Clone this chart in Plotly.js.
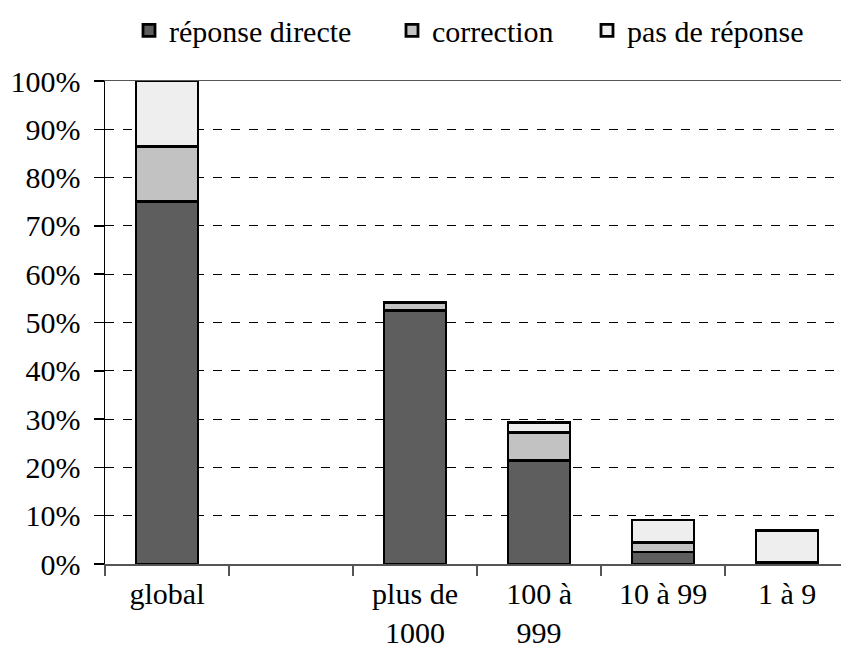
<!DOCTYPE html>
<html>
<head>
<meta charset="utf-8">
<script src="https://cdn.plot.ly/plotly-3.0.1.min.js"></script>
<style>html,body{margin:0;padding:0;background:#fff;}</style>
</head>
<body>
<div id="chart" style="width:841px;height:650px;"></div>
<script>
const categories = ["global", " ", "plus de<br>1000", "100 à<br>999", "10 à 99", "1 à 9"];
const reponseDirecte = [75.0, null, 52.5, 21.5, 2.5, 0.4];
const correction = [11.5, null, 1.7, 5.8, 2.0, 0];
const pasDeReponse = [13.5, null, 0, 2.0, 4.6, 6.6];
const seriesNames = ["réponse directe", "correction", "pas de réponse"];
const tickVals = [0, 10, 20, 30, 40, 50, 60, 70, 80, 90, 100];
const tickLabels = ["0%", "10%", "20%", "30%", "40%", "50%", "60%", "70%", "80%", "90%", "100%"];

const FONT = "Liberation Serif, Times New Roman, serif";
const FS = 30;
const barLine = {color: "#000", width: 2.8};

const traces = [
  {type: "bar", name: seriesNames[0], x: categories, y: reponseDirecte,
   marker: {color: "#5e5e5e", line: barLine}, legend: "legend"},
  {type: "bar", name: seriesNames[1], x: categories, y: correction,
   marker: {color: "#c2c2c2", line: barLine}, legend: "legend2"},
  {type: "bar", name: seriesNames[2], x: categories, y: pasDeReponse,
   marker: {color: "#eeeeee", line: barLine}, legend: "legend3"}
];

const legBase = {orientation: "h", yanchor: "middle", y: 1.105, xanchor: "left",
  font: {family: FONT, size: FS, color: "#000"}, bgcolor: "rgba(0,0,0,0)", borderwidth: 0};

const layout = {
  width: 841, height: 650,
  margin: {l: 105, r: 0, t: 81, b: 86, pad: 0},
  paper_bgcolor: "#fff", plot_bgcolor: "#fff",
  font: {family: FONT, size: FS, color: "#000"},
  barmode: "stack",
  bargap: 0.5,
  showlegend: true,
  legend: Object.assign({}, legBase, {x: (170 - 41 - 105) / 736}),
  legend2: Object.assign({}, legBase, {x: (433 - 41 - 105) / 736}),
  legend3: Object.assign({}, legBase, {x: (628 - 41 - 105) / 736}),
  xaxis: {
    type: "category", categoryorder: "array", categoryarray: categories,
    range: [-0.5, 5.435],
    showline: true, linecolor: "#555", linewidth: 1.5, mirror: true,
    ticks: "outside", ticklen: 10, tickwidth: 1.5, tickcolor: "#555",
    tickson: "boundaries", showgrid: false, zeroline: false,
    ticklabelstandoff: 2,
    tickfont: {family: FONT, size: FS, color: "#000"}
  },
  yaxis: {
    range: [0, 100], tickmode: "array", tickvals: tickVals, ticktext: tickLabels,
    showline: true, linecolor: "#000", linewidth: 1.5,
    ticks: "outside", ticklen: 10, tickwidth: 1.5, tickcolor: "#000",
    showgrid: true, gridcolor: "#000", gridwidth: 1, griddash: "dash",
    zeroline: false, ticklabelstandoff: 7,
    tickfont: {family: FONT, size: FS, color: "#000"}
  }
};

Plotly.newPlot("chart", traces, layout, {displayModeBar: false, staticPlot: true});
</script>
</body>
</html>
